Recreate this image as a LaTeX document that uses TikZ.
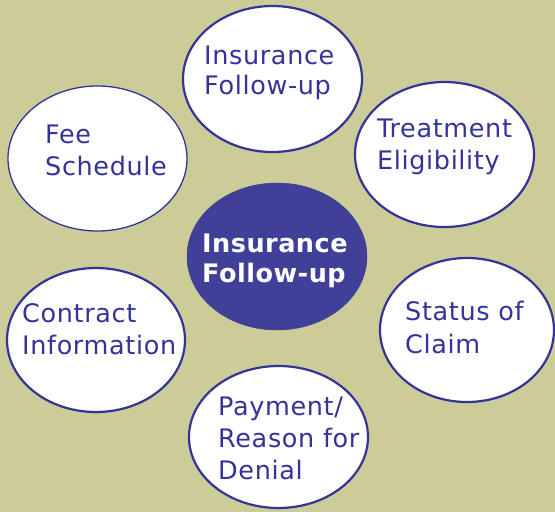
\documentclass[tikz,border=0pt]{standalone}
\usepackage{fontspec}
\setmainfont{DejaVu Sans}
\newfontfamily\bubblefont[LetterSpace=2.5]{DejaVu Sans}
\newfontfamily\hubfont[LetterSpace=2]{DejaVu Sans}
\usetikzlibrary{shapes.geometric}
\definecolor{bgolive}{RGB}{204,204,153}
\definecolor{ringblue}{RGB}{51,51,153}
\definecolor{hubblue}{RGB}{64,64,153}
\begin{document}
\begin{tikzpicture}[x=1pt,y=-1pt,
  bubble/.style={ellipse,draw=ringblue,fill=white,line width=2.2pt,inner sep=0pt},
  hub/.style={ellipse,draw=hubblue,fill=hubblue,line width=0.5pt,inner sep=0pt},
  lbl/.style={anchor=base west,inner sep=0pt,text=ringblue,font=\bubblefont\fontsize{25.5}{30}\selectfont},
  hublbl/.style={anchor=base west,inner sep=0pt,text=white,font=\hubfont\fontsize{25.5}{30}\selectfont\bfseries}]
\fill[bgolive] (0,0) rectangle (555,512);
\useasboundingbox (0,0) rectangle (555,512);
% ellipses
\node[bubble,minimum width=179pt,minimum height=146pt] (top) at (272.5,79) {};
\node[bubble,line width=1.3pt,minimum width=179pt,minimum height=145pt] (fee) at (97.5,158.5) {};
\node[bubble,minimum width=179pt,minimum height=145pt] (treat) at (444.5,154.5) {};
\node[hub,minimum width=180pt,minimum height=147pt] (hub) at (277,256.5) {};
\node[bubble,minimum width=178pt,minimum height=144pt] (contract) at (96,340) {};
\node[bubble,minimum width=174pt,minimum height=144pt] (status) at (467,330) {};
\node[bubble,minimum width=179pt,minimum height=142pt] (pay) at (278.5,437) {};
% labels
\node[lbl] (t1) at (204,64) {Insurance};
\node[lbl] (t2) at (204,94) {Follow-up};
\node[lbl] (f1) at (45,143) {Fee};
\node[lbl] (f2) at (45,175) {Schedule};
\node[lbl] (e1) at (377,137) {Treatment};
\node[lbl] (e2) at (377,169) {Eligibility};
\node[hublbl] (h1) at (202,252) {Insurance};
\node[hublbl] (h2) at (202,282) {Follow-up};
\node[lbl] (c1) at (22,322) {Contract};
\node[lbl] (c2) at (22,354) {Information};
\node[lbl] (s1) at (405,320) {Status of};
\node[lbl] (s2) at (405,353) {Claim};
\node[lbl] (p1) at (218,415) {Payment/};
\node[lbl] (p2) at (218,447) {Reason for};
\node[lbl] (p3) at (218,479) {Denial};
\end{tikzpicture}
\end{document}
